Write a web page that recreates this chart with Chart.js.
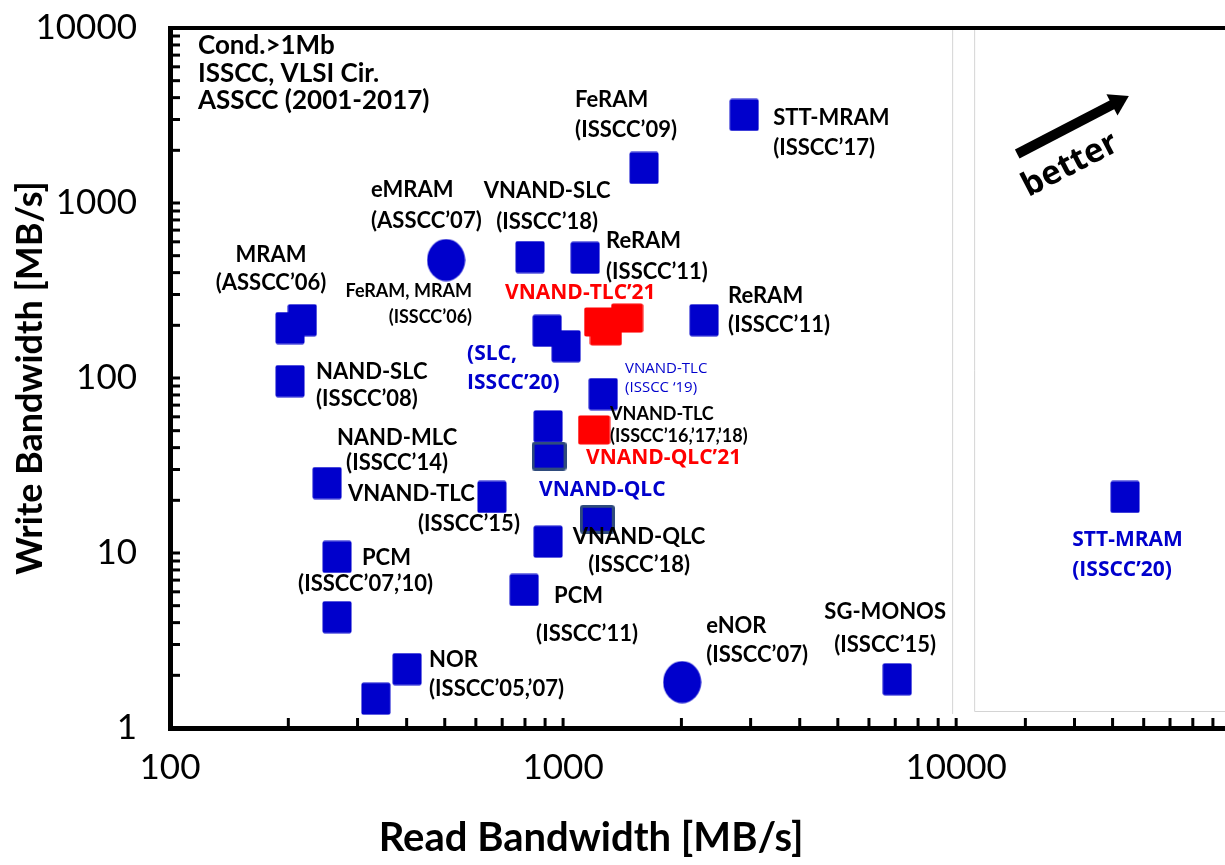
<!DOCTYPE html>
<html>
<head>
<meta charset="utf-8">
<title>Read / Write Bandwidth</title>
<script src="https://cdn.jsdelivr.net/npm/chart.js@4"></script>
<style>
  html, body { margin: 0; padding: 0; background: #fff; }
  #wrap { width: 1225px; height: 865px; position: relative; }
</style>
</head>
<body>
<div id="wrap"><canvas id="chart"></canvas></div>
<script>
// ---- data (read / write bandwidth, MB/s) ----
const blueRead  = [202, 217, 202, 824, 1138, 1607, 2890, 2284, 911, 1018, 1265, 916, 251, 659, 916, 266, 266, 796, 401, 334, 7080, 26900];
const blueWrite = [193, 214, 96, 491, 486, 1585, 3185, 214, 186, 152, 81, 53, 25.1, 20.9, 11.6, 9.5, 4.3, 6.15, 2.17, 1.47, 1.9, 20.9];

const redRead  = [1242, 1285, 1455, 1199];
const redWrite = [209, 186, 220, 50.5];

const circleRead  = [504, 2009];
const circleWrite = [472, 1.83];

const qlcRead  = [921, 1222];
const qlcWrite = [35.8, 15.6];

// axis ticks
const xMajor = [100, 1000, 10000];
const xTickLabels = ['100', '1000', '10000'];
const xRightTicks = [15000, 20000, 25000, 30000, 35000, 40000, 45000];
const yMajor = [1, 10, 100, 1000, 10000];
const yTickLabels = ['1', '10', '100', '1000', '10000'];

// text notes, anchored in data units [read, write]
const notes = [
  { lines: ['Cond.>1Mb', 'ISSCC, VLSI Cir.', 'ASSCC (2001-2017)'], at: [117.8, 7890], align: 'left', kind: 'big', gap: 27.5 },
  { lines: ['FeRAM', '(ISSCC’09)'], at: [1073, 3878], align: 'left', kind: 'black', gap: 30 },
  { lines: ['STT-MRAM', '(ISSCC’17)'], at: [3423, 3060], align: 'left', kind: 'black', gap: 30 },
  { lines: ['eMRAM', '(ASSCC’07)'], at: [324.7, 1187], align: 'left', kind: 'black', gap: 31 },
  { lines: ['VNAND-SLC', '(ISSCC’18)'], at: [910.7, 1171], align: 'center', kind: 'black', gap: 31 },
  { lines: ['MRAM', '(ASSCC’06)'], at: [180.7, 504], align: 'center', kind: 'black', gap: 28 },
  { lines: ['ReRAM', '(ISSCC’11)'], at: [1286, 606.6], align: 'left', kind: 'black', gap: 31 },
  { lines: ['ReRAM', '(ISSCC’11)'], at: [2629, 294], align: 'left', kind: 'black', gap: 29 },
  { lines: ['FeRAM, MRAM', '(ISSCC’06)'], at: [586.7, 314], align: 'right', kind: 'small', gap: 26 },
  { lines: ['NAND-SLC', '(ISSCC’08)'], at: [235.2, 108.2], align: 'left', kind: 'black', gap: 27 },
  { lines: ['NAND-MLC', '(ISSCC’14)'], at: [378.1, 45.4], align: 'center', kind: 'black', gap: 25 },
  { lines: ['VNAND-TLC'], at: [283.8, 21.74], align: 'left', kind: 'black', gap: 0 },
  { lines: ['(ISSCC’15)'], at: [427.6, 14.65], align: 'left', kind: 'black', gap: 0 },
  { lines: ['VNAND-TLC', '(ISSCC’16,’17,’18)'], at: [1317, 62.3], align: 'left', kind: 'small', gap: 22 },
  { lines: ['VNAND-QLC', '(ISSCC’18)'], at: [1561, 12.34], align: 'center', kind: 'black', gap: 28 },
  { lines: ['PCM'], at: [307.9, 9.36], align: 'left', kind: 'black', gap: 0 },
  { lines: ['(ISSCC’07,’10)'], at: [314.5, 6.65], align: 'center', kind: 'black', gap: 0 },
  { lines: ['PCM'], at: [948.6, 5.68], align: 'left', kind: 'black', gap: 0 },
  { lines: ['(ISSCC’11)'], at: [853.9, 3.44], align: 'left', kind: 'black', gap: 0 },
  { lines: ['NOR', '(ISSCC’05,’07)'], at: [456, 2.447], align: 'left', kind: 'black', gap: 29 },
  { lines: ['eNOR', '(ISSCC’07)'], at: [2312, 3.83], align: 'left', kind: 'black', gap: 29 },
  { lines: ['SG-MONOS', '(ISSCC’15)'], at: [6597, 4.6], align: 'center', kind: 'black', gap: 33 },
  { lines: ['VNAND-TLC’21'], at: [711.9, 306], align: 'left', kind: 'red', gap: 0 },
  { lines: ['VNAND-QLC’21'], at: [1144, 34.9], align: 'left', kind: 'red', gap: 0 },
  { lines: ['(SLC,', 'ISSCC’20)'], at: [569.8, 137.1], align: 'left', kind: 'blue', gap: 29 },
  { lines: ['VNAND-QLC'], at: [868.7, 22.9], align: 'left', kind: 'blue', gap: 0 },
  { lines: ['VNAND-TLC', '(ISSCC ‘19)'], at: [1438, 112.6], align: 'left', kind: 'tiny', gap: 19 },
  { lines: ['STT-MRAM', '(ISSCC’20)'], at: [19740, 11.87], align: 'left', kind: 'blue', gap: 30 }
];

// "better" arrow, data units
const arrowFrom = [14300, 1905];
const arrowTo = [27500, 4085];
const betterAt = [19500, 1648];

const COLORS = {
  blue: '#0000CC',
  red: '#FF0000',
  qlcEdge: '#2F4B7C',
  frame: '#D4D4D4'
};

const noteStyles = {
  big:   { font: 'bold 26px Lato', color: '#000' },
  black: { font: 'bold 22px Lato', color: '#000' },
  small: { font: 'bold 18px Lato', color: '#000' },
  red:   { font: 'bold 21px "Open Sans"', color: COLORS.red },
  blue:  { font: 'bold 21px "Open Sans"', color: COLORS.blue },
  tiny:  { font: '15px "Open Sans"', color: COLORS.blue }
};

/**
 * build a marker image (canvas) used as pointStyle
 */
function makeMarker(w, h, fill, edge, shape) {
  const c = document.createElement('canvas');
  c.width = w;
  c.height = h;
  const g = c.getContext('2d');
  g.fillStyle = fill;
  g.beginPath();
  if (shape === 'ellipse') {
    g.ellipse(w / 2, h / 2, w / 2 - 0.5, h / 2 - 0.5, 0, 0, Math.PI * 2);
    g.fill();
  } else if (edge) {
    g.roundRect(1.5, 1.5, w - 3, h - 3, 2);
    g.fill();
    g.lineWidth = 3;
    g.strokeStyle = edge;
    g.stroke();
  } else {
    g.roundRect(0.5, 0.5, w - 1, h - 1, 2);
    g.fill();
  }
  return c;
}

const markers = {
  blue: makeMarker(30, 33, COLORS.blue),
  red: makeMarker(33, 30, COLORS.red),
  qlc: makeMarker(35, 29, COLORS.blue, COLORS.qlcEdge),
  circle: makeMarker(39, 43, COLORS.blue, null, 'ellipse')
};

function toPoints(xs, ys) {
  return xs.map((v, i) => ({ x: v, y: ys[i] }));
}

function decadeTicks(from, to) {
  const out = [];
  for (let d = from; d < to; d *= 10) {
    for (let k = 1; k < 10; k++) out.push({ value: d * k });
  }
  out.push({ value: to });
  return out;
}

// no extra label padding around the plot box
function fixBox(s, size) {
  if (s.isHorizontal()) s.height = size;
  else s.width = size;
  s.paddingTop = 0;
  s.paddingBottom = 0;
  s.paddingLeft = 0;
  s.paddingRight = 0;
}

// inward tick marks, top border, pasted-panel frame
const framePlugin = {
  id: 'frame',
  beforeDatasetsDraw(chart) {
    const { ctx, chartArea: a, scales: { x, y } } = chart;
    ctx.save();

    // faint frame of the right panel
    const p10k = x.getPixelForValue(10000);
    ctx.strokeStyle = COLORS.frame;
    ctx.lineWidth = 1;
    ctx.beginPath();
    ctx.moveTo(p10k - 3.5, a.top + 2);
    ctx.lineTo(p10k - 3.5, a.bottom - 14);
    ctx.moveTo(p10k + 18.5, a.top + 2);
    ctx.lineTo(p10k + 18.5, a.bottom - 16.5);
    ctx.lineTo(a.right, a.bottom - 16.5);
    ctx.stroke();

    ctx.strokeStyle = '#000';
    ctx.lineWidth = 3;
    x.ticks.forEach(t => {
      const px = x.getPixelForValue(t.value);
      if (px <= a.left + 3 || px > a.right) return;
      ctx.beginPath();
      ctx.moveTo(px, a.bottom);
      ctx.lineTo(px, a.bottom - 10);
      ctx.stroke();
    });
    y.ticks.forEach(t => {
      const py = y.getPixelForValue(t.value);
      if (py >= a.bottom - 3 || py <= a.top + 3) return;
      ctx.beginPath();
      ctx.moveTo(a.left, py);
      ctx.lineTo(a.left + 10, py);
      ctx.stroke();
    });

    // top border
    ctx.lineWidth = 4;
    ctx.beginPath();
    ctx.moveTo(a.left - 2, a.top);
    ctx.lineTo(a.right, a.top);
    ctx.stroke();
    ctx.restore();
  }
};

// labels, arrow, x title
const notePlugin = {
  id: 'notes',
  afterDatasetsDraw(chart) {
    const { ctx, chartArea: a, scales: { x, y } } = chart;
    ctx.save();
    ctx.textBaseline = 'middle';

    notes.forEach(n => {
      const st = noteStyles[n.kind];
      const px = x.getPixelForValue(n.at[0]);
      const py = y.getPixelForValue(n.at[1]);
      ctx.font = st.font;
      ctx.fillStyle = st.color;
      ctx.textAlign = n.align;
      n.lines.forEach((line, i) => ctx.fillText(line, px, py + i * n.gap));
    });

    // arrow
    const x1 = x.getPixelForValue(arrowFrom[0]);
    const y1 = y.getPixelForValue(arrowFrom[1]);
    const x2 = x.getPixelForValue(arrowTo[0]);
    const y2 = y.getPixelForValue(arrowTo[1]);
    const ang = Math.atan2(y2 - y1, x2 - x1);
    const head = 19;
    const half = 12;
    const bx = x2 - head * Math.cos(ang);
    const by = y2 - head * Math.sin(ang);
    ctx.strokeStyle = '#000';
    ctx.fillStyle = '#000';
    ctx.lineWidth = 10;
    ctx.beginPath();
    ctx.moveTo(x1, y1);
    ctx.lineTo(bx + 2 * Math.cos(ang), by + 2 * Math.sin(ang));
    ctx.stroke();
    ctx.beginPath();
    ctx.moveTo(x2, y2);
    ctx.lineTo(bx - half * Math.sin(ang), by + half * Math.cos(ang));
    ctx.lineTo(bx + half * Math.sin(ang), by - half * Math.cos(ang));
    ctx.closePath();
    ctx.fill();

    // "better"
    ctx.save();
    ctx.translate(x.getPixelForValue(betterAt[0]), y.getPixelForValue(betterAt[1]));
    ctx.rotate(ang);
    ctx.font = 'bold 33px "Open Sans"';
    ctx.textAlign = 'center';
    ctx.fillText('better', 0, 0);
    ctx.restore();

    // x axis title, centred under the 100 - 10000 span
    ctx.font = 'bold 40px Lato';
    ctx.textAlign = 'center';
    ctx.fillText('Read Bandwidth [MB/s]', (a.left + x.getPixelForValue(10000)) / 2 + 28, 838);
    ctx.restore();
  }
};

const bandwidthChart = new Chart(document.getElementById('chart'), {
  type: 'scatter',
  data: {
    datasets: [
      { data: toPoints(qlcRead, qlcWrite), pointStyle: markers.qlc, pointRadius: 17, clip: false },
      { data: toPoints(redRead, redWrite), pointStyle: markers.red, pointRadius: 16, clip: false },
      { data: toPoints(blueRead, blueWrite), pointStyle: markers.blue, pointRadius: 16, clip: false },
      { data: toPoints(circleRead, circleWrite), pointStyle: markers.circle, pointRadius: 20, clip: false }
    ]
  },
  options: {
    responsive: true,
    maintainAspectRatio: false,
    animation: false,
    events: [],
    layout: { autoPadding: false, padding: { top: 28, left: 0, right: 0, bottom: 0 } },
    plugins: {
      legend: { display: false },
      tooltip: { enabled: false }
    },
    scales: {
      x: {
        type: 'logarithmic',
        position: 'bottom',
        min: 100,
        max: 48300,
        afterBuildTicks: s => { s.ticks = decadeTicks(100, 10000).concat(xRightTicks.map(v => ({ value: v }))); },
        afterFit: s => fixBox(s, 137),
        grid: { display: false, drawTicks: false },
        border: { display: true, color: '#000', width: 5 },
        ticks: {
          autoSkip: false,
          maxRotation: 0,
          padding: 19,
          color: '#000',
          font: { family: 'Lato', size: 35 },
          callback: v => {
            const i = xMajor.indexOf(v);
            return i >= 0 ? xTickLabels[i] : '';
          }
        }
      },
      y: {
        type: 'logarithmic',
        position: 'left',
        min: 1,
        max: 10000,
        afterBuildTicks: s => { s.ticks = decadeTicks(1, 10000); },
        afterFit: s => fixBox(s, 170),
        grid: { display: false, drawTicks: false },
        border: { display: true, color: '#000', width: 5 },
        title: {
          display: true,
          text: 'Write Bandwidth [MB/s]',
          color: '#000',
          font: { family: 'Lato', size: 36, weight: 'bold' },
          padding: { top: 9, bottom: 0 }
        },
        ticks: {
          autoSkip: false,
          padding: 33,
          color: '#000',
          font: { family: 'Lato', size: 35 },
          callback: v => {
            const i = yMajor.indexOf(v);
            return i >= 0 ? yTickLabels[i] : '';
          }
        }
      }
    }
  },
  plugins: [framePlugin, notePlugin]
});
</script>
</body>
</html>
